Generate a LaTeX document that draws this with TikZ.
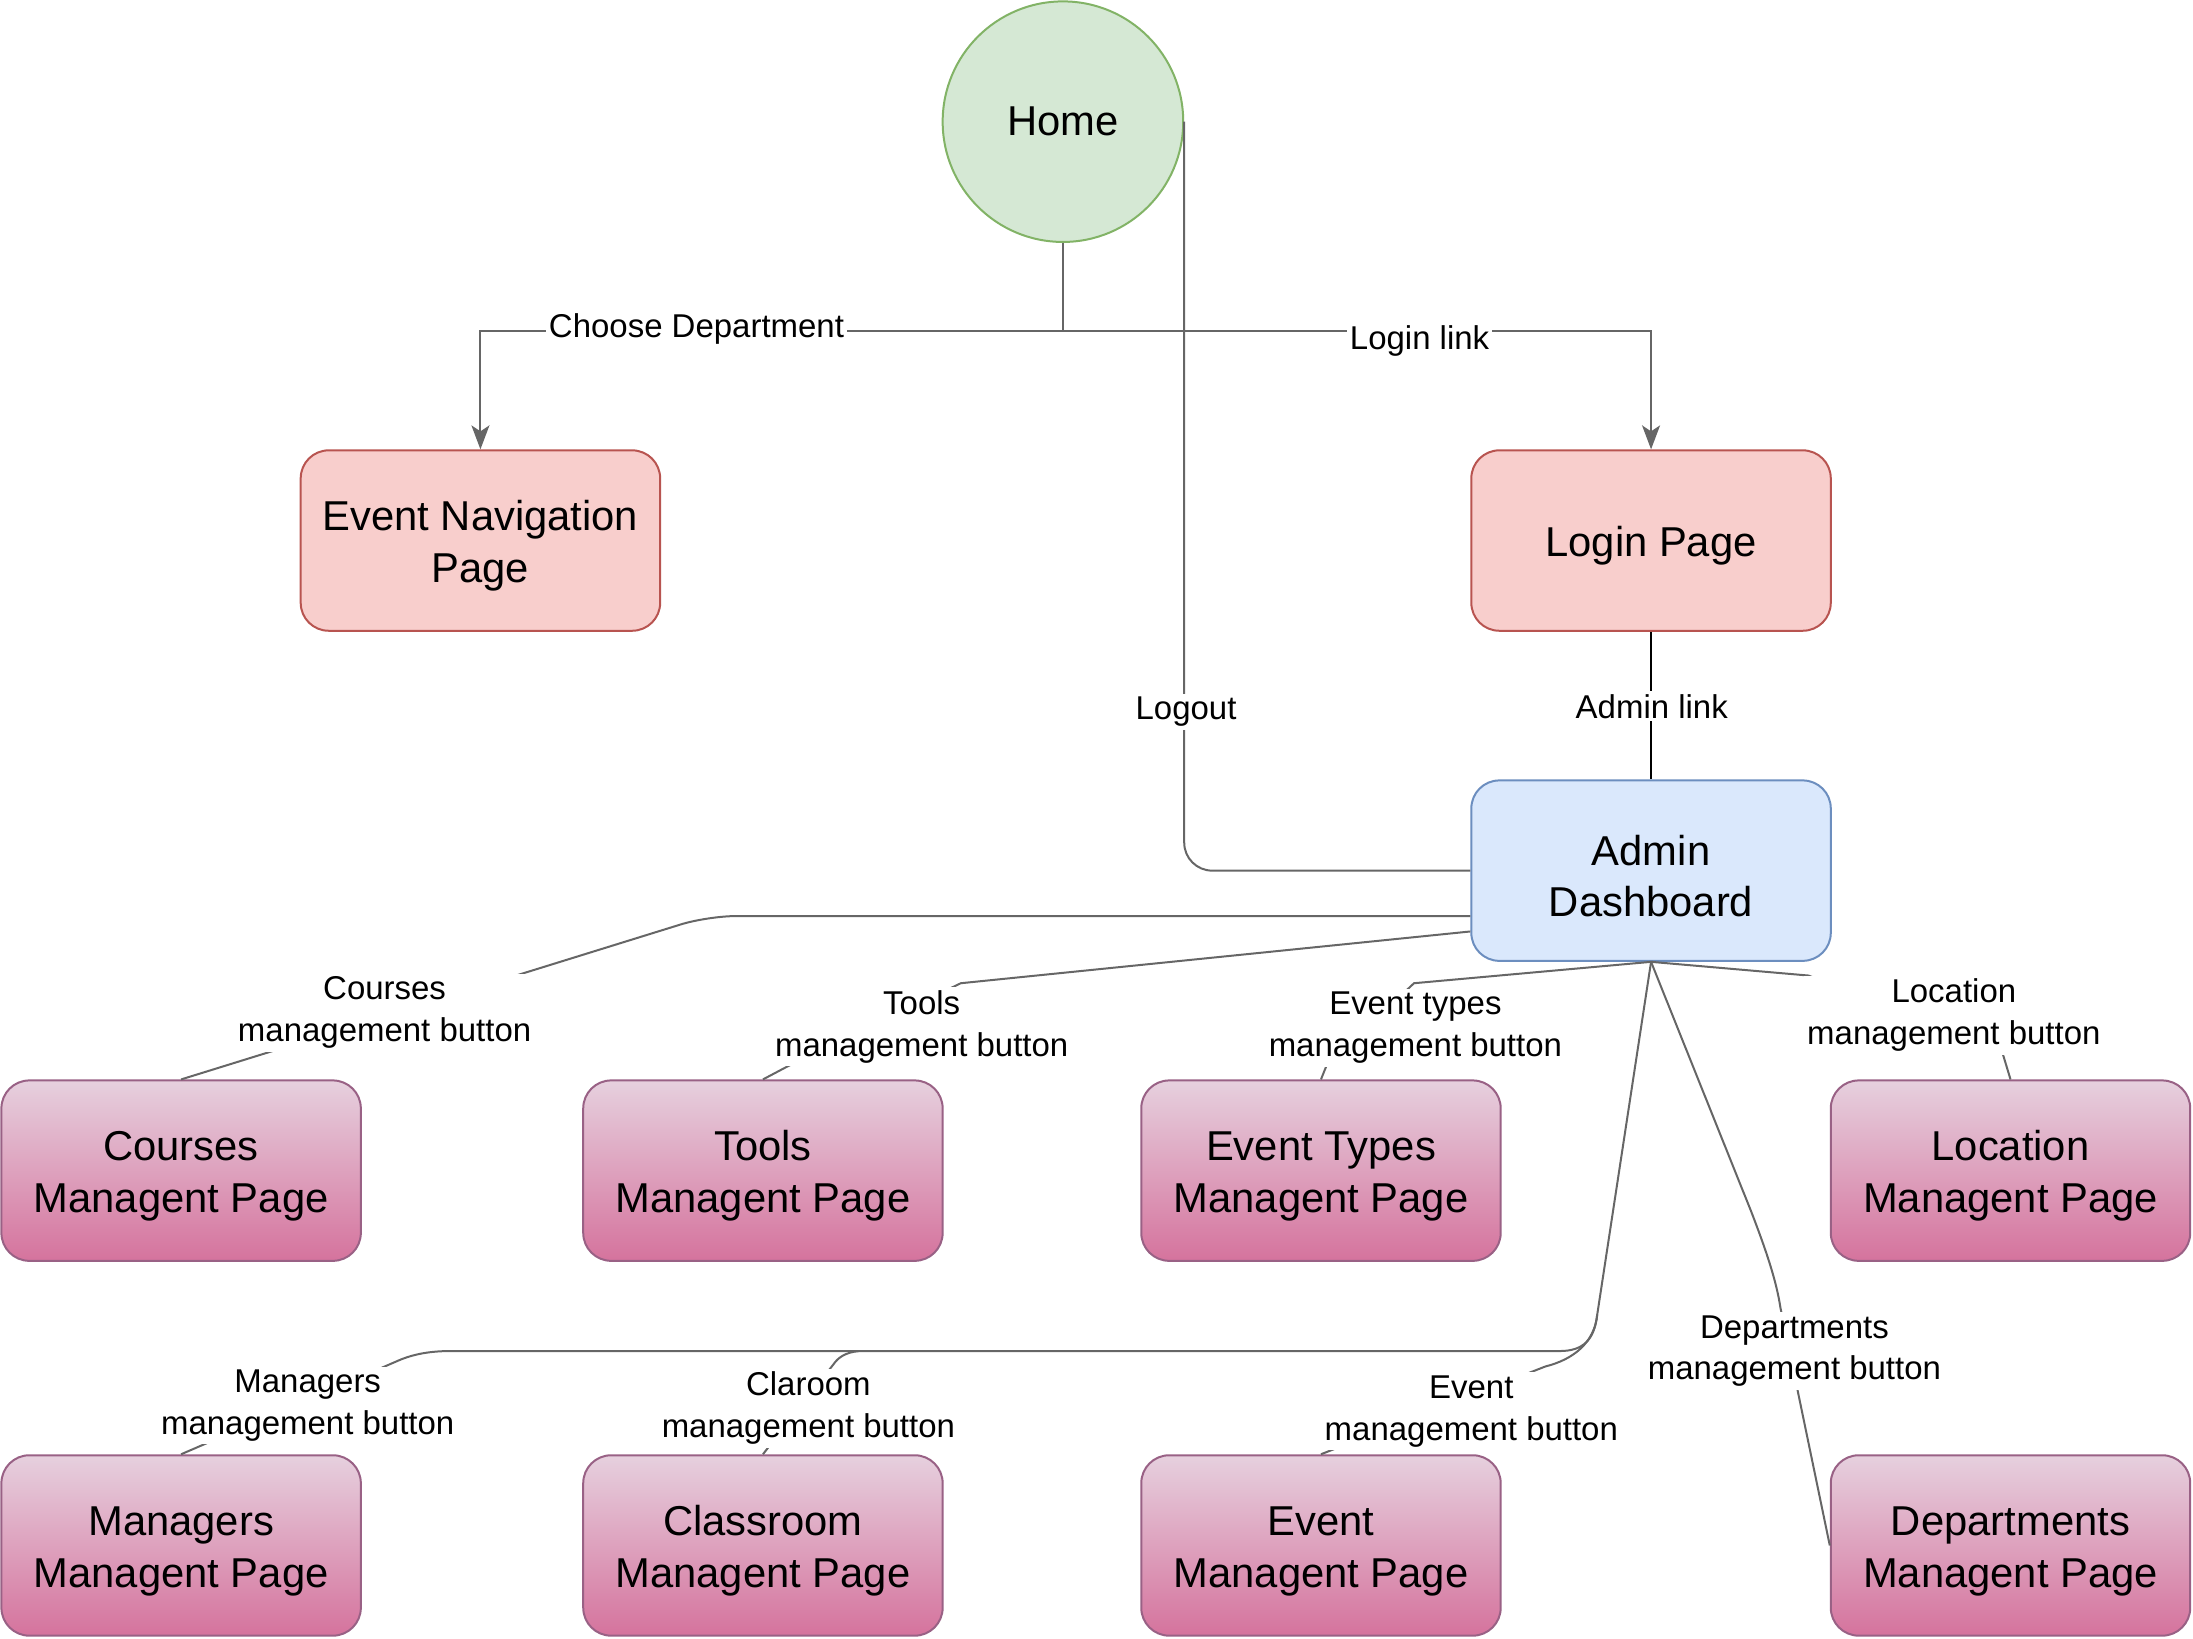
\documentclass[tikz,border=0pt]{standalone}
\usepackage{fontspec}
\setmainfont{Liberation Sans}
\usetikzlibrary{arrows.meta,calc}
\definecolor{edgegray}{HTML}{666666}
\definecolor{homefill}{HTML}{D5E8D4}
\definecolor{homeline}{HTML}{82B366}
\definecolor{redfill}{HTML}{F8CECC}
\definecolor{redline}{HTML}{B85450}
\definecolor{bluefill}{HTML}{DAE8FC}
\definecolor{blueline}{HTML}{6C8EBF}
\definecolor{pinktop}{HTML}{E6D0DE}
\definecolor{pinkbot}{HTML}{D5739D}
\definecolor{pinkline}{HTML}{996185}
\newcommand{\firstline}{\rule{0pt}{0.98em}}
\tikzset{
  pagebox/.style={rounded corners=14pt, minimum width=179.9pt, minimum height=90.3pt,
    inner sep=0pt, align=center, line width=1pt, font=\fontsize{20.9}{25.9}\selectfont},
  redbox/.style={pagebox, fill=redfill, draw=redline},
  bluebox/.style={pagebox, fill=bluefill, draw=blueline},
  pinkbox/.style={pagebox, draw=pinkline, top color=pinktop, bottom color=pinkbot},
  link/.style={draw=edgegray, line width=1pt},
  lbl/.style={fill=white, inner sep=1.5pt, align=center, font=\fontsize{16.5}{21}\selectfont},
  tip/.style={-{Stealth[length=12pt, width=9pt, inset=3pt]}}
}
\begin{document}
\begin{tikzpicture}[x=0.7pt,y=-0.7pt]
\useasboundingbox (0,0) rectangle (1568,1171.2);

% nodes
\node[circle, minimum size=120.4pt, inner sep=0pt, fill=homefill, draw=homeline, line width=1pt,
      font=\fontsize{20.9}{25.9}\selectfont] (Home) at (760,87) {Home};
\node[redbox] (EventNav) at (343.5,386.5) {\firstline Event Navigation\\Page};
\node[redbox] (Login) at (1180.5,386.5) {\firstline Login Page};
\node[bluebox] (Admin) at (1180.5,622.5) {\firstline Admin\\Dashboard};

\node[pinkbox] (Courses) at (129.5,837) {\firstline Courses\\Managent Page};
\node[pinkbox] (Tools) at (545.5,837) {\firstline Tools\\Managent Page};
\node[pinkbox] (EventTypes) at (944.5,837) {\firstline Event Types\\Managent Page};
\node[pinkbox] (Location) at (1437.5,837) {\firstline Location\\Managent Page};

\node[pinkbox] (Managers) at (129.5,1105) {\firstline Managers\\Managent Page};
\node[pinkbox] (Classroom) at (545.5,1105) {\firstline Classroom\\Managent Page};
\node[pinkbox] (EventP) at (944.5,1105) {\firstline Event\\Managent Page};
\node[pinkbox] (Departments) at (1437.5,1105) {\firstline Departments\\Managent Page};

% connectors
\coordinate (split) at (760,237);
\draw[link] (Home.south) -- (split);
\draw[link, tip] (split) -| (EventNav.north);
\draw[link, tip] (split) -| (Login.north);

\draw[link, rounded corners=14pt] (Home.east) |- (Admin.west);

\draw[black, line width=1pt] (Login.south) -- (Admin.north);

\coordinate (coursesCorner) at (506,655);
\draw[link, rounded corners=14pt] ($(Admin.west)+(0,32.5)$) -- (coursesCorner) -- (Courses.north);

\coordinate (toolsA) at (687,703);
\coordinate (toolsB) at (564,762);
\draw[link] ($(Admin.west)+(0,43.5)$) -- (toolsA) -- (toolsB) -- (Tools.north);

\coordinate (etA) at (1011,703);
\coordinate (etB) at (948.5,761.8);
\draw[link] (Admin.south) -- (etA) -- (etB) -- (EventTypes.north);

\coordinate (locA) at (1293,697.5);
\coordinate (locB) at (1432,753.6);
\draw[link] (Admin.south) -- (locA) -- (locB) -- (Location.north);

\coordinate (trunk) at (1142,940);
\coordinate (hEnd) at (1115,966);
\coordinate (mgrA) at (322,966);
\coordinate (mgrB) at (283,973.6);
\draw[link] (Admin.south) -- (trunk) .. controls (1140,958) and (1132,966) .. (hEnd)
  -- (mgrA) .. controls (305,966) and (293,969) .. (mgrB) -- (Managers.north);

\coordinate (clsA) at (614,966);
\coordinate (clsB) at (596,975.4);
\draw[link] (clsA) .. controls (604,967) and (599,971) .. (clsB) -- (Classroom.north);

\coordinate (evB) at (1105,977);
\draw[link] (trunk) .. controls (1140,960) and (1125,972) .. (evB) -- (EventP.north);

\coordinate (depA) at (1252,866);
\coordinate (depB) at (1273,935);
\draw[link] (Admin.south) -- (depA) .. controls (1262,892) and (1270,915) .. (depB) -- (Departments.west);

% labels
\node[lbl] (lChoose) at (498,235) {Choose Department};
\node[lbl] (lLogin) at (1015,244) {Login link};
\node[lbl] (lLogout) at (848,509) {Logout};
\node[lbl] (lAdmin) at (1181,505) {Admin link};
\node[lbl] (lCourses) at (275,724) {Courses\\management button};
\node[lbl] (lTools) at (659,734) {Tools\\management button};
\node[lbl] (lET) at (1012,735) {Event types\\management button};
\node[lbl] (lLoc) at (1397,726) {Location\\management button};
\node[lbl] (lDep) at (1283,966) {Departments\\management button};
\node[lbl] (lMgr) at (220,1005) {Managers\\management button};
\node[lbl] (lCls) at (578,1007) {Claroom\\management button};
\node[lbl] (lEv) at (1052,1009) {Event\\management button};
\end{tikzpicture}
\end{document}
